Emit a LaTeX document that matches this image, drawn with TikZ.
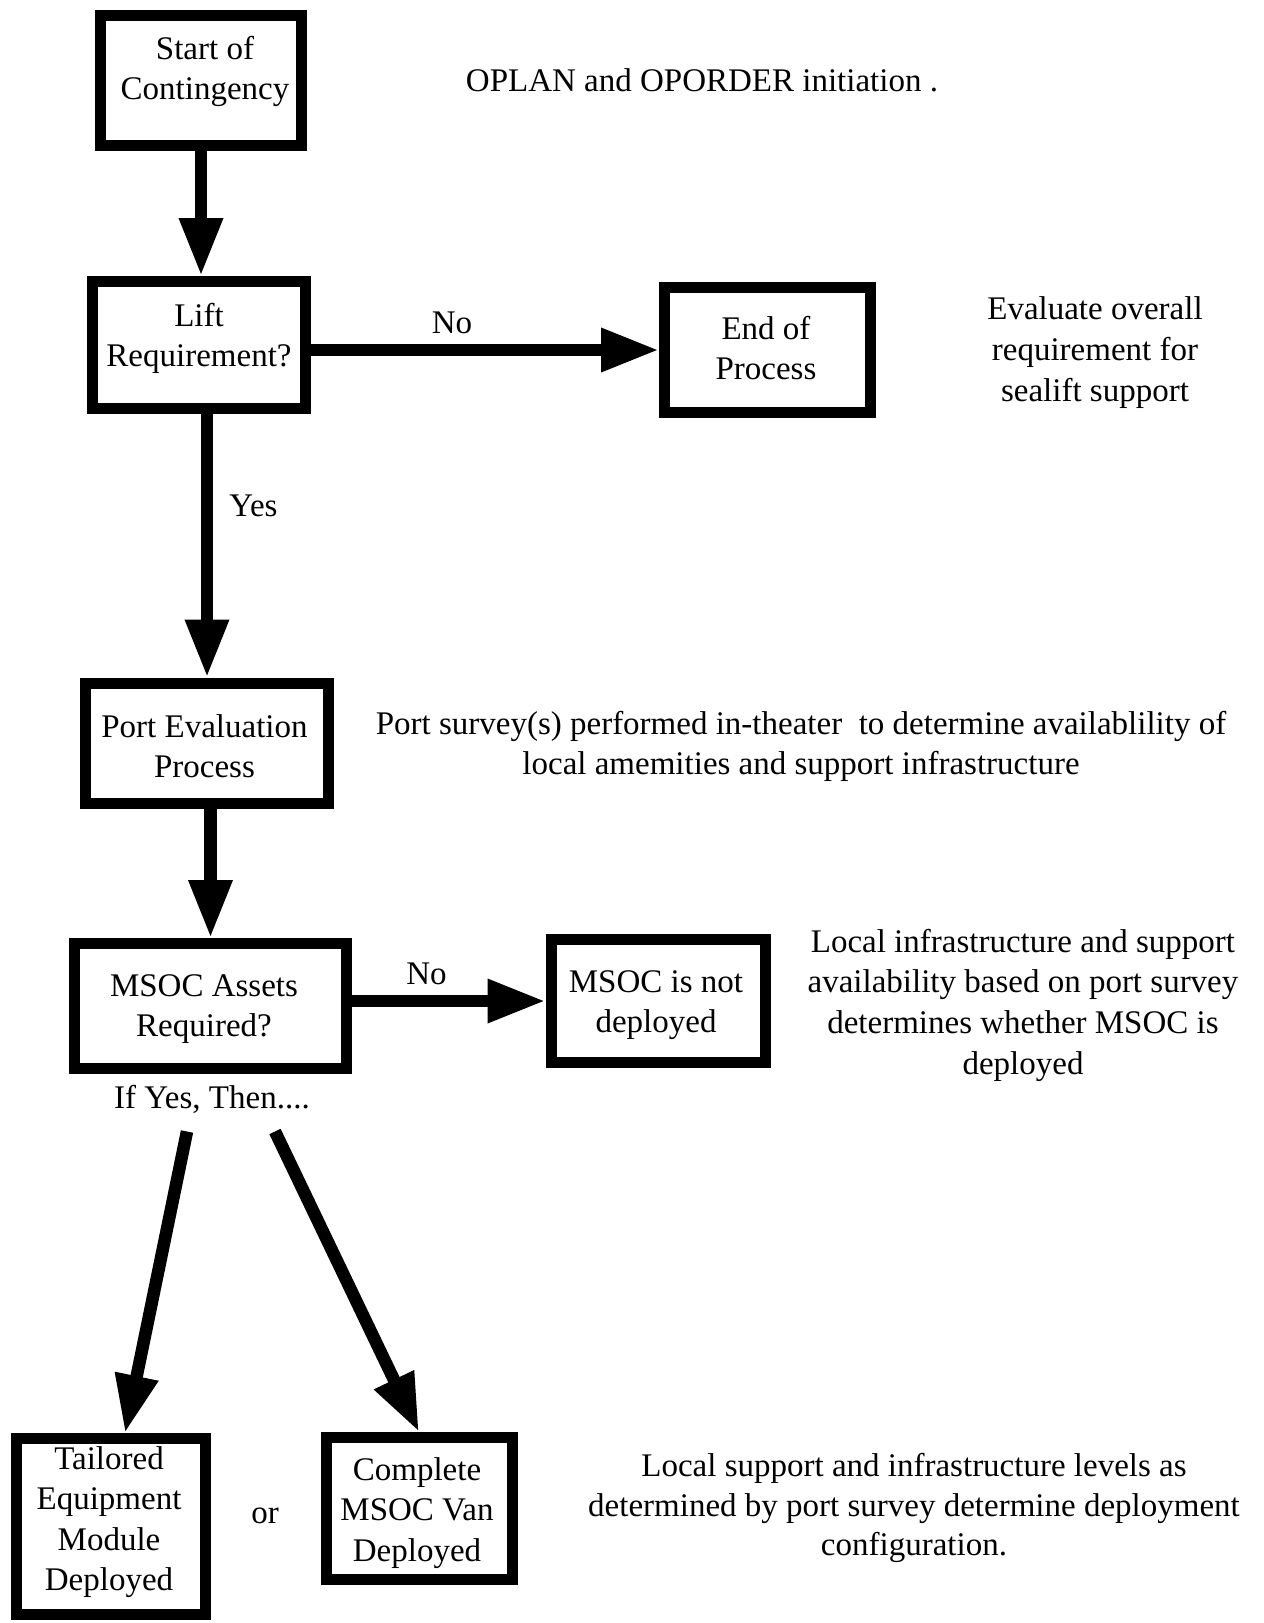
\documentclass[tikz,border=0pt]{standalone}
\usepackage{fontspec}
\setmainfont{Liberation Serif}
\usetikzlibrary{arrows.meta}

\tikzset{
  box/.style={draw, line width=11pt, inner sep=0pt, fill=white},
  txt/.style={align=center, inner sep=0pt, yshift=-3pt, font=\fontsize{33}{40}\selectfont},
  arr/.style={line width=12.5pt, -{Triangle[length=58pt,width=41pt]}},
}

\begin{document}
\begin{tikzpicture}[x=1pt,y=-1pt]
  \useasboundingbox[fill=white] (0,0) rectangle (1264,1623);

  % process boxes
  \node[box, minimum width=201pt, minimum height=130pt] (start)    at (201,80.5)   {};
  \node[box, minimum width=213pt, minimum height=127pt] (lift)     at (199,345)    {};
  \node[box, minimum width=206pt, minimum height=125pt] (endp)     at (767.5,350)  {};
  \node[box, minimum width=243pt, minimum height=120pt] (port)     at (207,743)    {};
  \node[box, minimum width=272pt, minimum height=125pt] (msoc)     at (210.5,1006) {};
  \node[box, minimum width=214pt, minimum height=123pt] (notdep)   at (658,1001)   {};
  \node[box, minimum width=189pt, minimum height=176pt] (tailored) at (111,1526.5) {};
  \node[box, minimum width=186pt, minimum height=142pt] (complete) at (419,1508.5) {};

  % box captions
  \node[txt] (startT)    at (205,68)    {Start of\\Contingency};
  \node[txt] (liftT)     at (199,335)   {Lift\\Requirement?};
  \node[txt] (endpT)     at (766,345)   {End of\\Process};
  \node[txt] (portT)     at (204.5,743) {Port Evaluation\\Process};
  \node[txt] (msocT)     at (204,1006)  {MSOC Assets\\Required?};
  \node[txt] (notdepT)   at (656,1002)  {MSOC is not\\deployed};
  \node[txt, font=\fontsize{33}{40.3}\selectfont] (tailoredT) at (109,1519) {Tailored\\Equipment\\Module\\Deployed};
  \node[txt, font=\fontsize{33}{40.5}\selectfont] (completeT) at (417,1510) {Complete\\MSOC Van\\Deployed};

  % connectors
  \draw[arr] (start.south) -- (start.south |- lift.north);
  \draw[arr] ([yshift=-5pt]lift.east) -- ([yshift=-5pt]lift.east -| endp.west);
  \draw[arr] (lift.south -| port.north) -- (port.north);
  \draw[arr] (msoc.north |- port.south) -- (msoc.north);
  \draw[arr] (msoc.east |- notdep.west) -- (notdep.west);
  \coordinate (lfork) at (187,1131.5);
  \coordinate (rfork) at (275,1131.5);
  \draw[arr] (lfork) -- ([xshift=14pt]tailored.north);
  \draw[arr] (rfork) -- (complete.north);

  % connector labels
  \node[txt] (no1)  at (452,320)   {No};
  \node[txt] (yes)  at (253.5,503) {Yes};
  \node[txt] (no2)  at (426.5,971) {No};
  \node[txt] (ifyes) at (212,1096) {If Yes, Then....};
  \node[txt] (or)   at (265,1513)  {or};

  % annotations
  \node[txt] (oplan) at (702,77) {OPLAN and OPORDER initiation .};
  \node[txt, font=\fontsize{33}{41}\selectfont] (evalT) at (1095,350) {Evaluate overall\\requirement for\\sealift support};
  \node[txt] (surveyT) at (801,743) {Port survey(s) performed in-theater\ \ to determine availablility of\\local amemities and support infrastructure};
  \node[txt, font=\fontsize{33}{40.7}\selectfont] (localT) at (1023,1002) {Local infrastructure and support\\availability based on port survey\\determines whether MSOC is\\deployed};
  \node[txt, font=\fontsize{33}{39.2}\selectfont] (configT) at (914,1505) {Local support and infrastructure levels as\\determined by port survey determine deployment\\configuration.};
\end{tikzpicture}
\end{document}
